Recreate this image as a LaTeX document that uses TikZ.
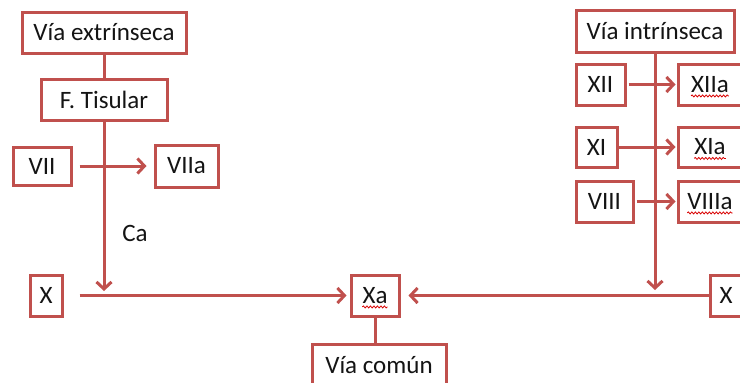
\documentclass[tikz,border=0pt]{standalone}
\usepackage{fontspec}
\setmainfont{Carlito}
\usetikzlibrary{arrows.meta,decorations.pathmorphing}
\definecolor{boxred}{HTML}{C0504D}
\definecolor{ink}{HTML}{141414}
\begin{document}
\begin{tikzpicture}[x=1pt,y=-1pt,
  lbl/.style={font=\fontsize{25}{30}\selectfont, text=ink},
  box/.style={lbl, draw=boxred, line width=3pt, fill=white, inner sep=0pt, minimum height=41pt},
  word/.style={lbl, inner sep=0pt},
  link/.style={draw=boxred, line width=3pt},
  arr/.style={link, -{Straight Barb[length=7pt,width=15pt]}},
  spell/.style={draw=red!85!black, line width=0.8pt, decorate,
    decoration={snake, amplitude=1pt, segment length=3.5pt}}
]
\useasboundingbox (0,0) rectangle (740,383);

% extrinsic pathway
\node[box, minimum width=164pt] (ve) at (104,32.5) {Vía extrínseca};
\node[box, minimum width=126pt] (ft) at (104,99.5) {F. Tisular};
\node[box, minimum width=58pt, minimum height=38pt] (vii) at (42,166) {VII};
\node[box, minimum width=63pt, minimum height=42pt] (viia) at (186.5,166) {VIIa};
\node[word] (ca) at (135,233) {Ca};
\coordinate (el) at (104,291);

% common pathway
\node[box, minimum width=32pt] (xl) at (46,295.5) {X};
\node[box, minimum width=48pt] (xa) at (375,295.5) {};
\node[word] (xat) at (xa) {Xa};
\node[box, minimum width=134pt, minimum height=42pt] (vc) at (379,365) {Vía común};
\node[box, minimum width=32pt] (xr) at (726,295.5) {X};

% intrinsic pathway
\node[box, minimum width=158pt, minimum height=42pt] (vi) at (655,31) {Vía intrínseca};
\node[box, minimum width=49pt] (xii) at (600.5,84.5) {XII};
\node[box, minimum width=64pt] (xiia) at (710,84.5) {};
\node[word] (xiiat) at (xiia) {XIIa};
\node[box, minimum width=41pt, minimum height=40pt] (xi) at (596.5,147) {XI};
\node[box, minimum width=64pt, minimum height=40pt] (xia) at (710,147) {};
\node[word] (xiat) at (xia) {XIa};
\node[box, minimum width=57pt] (viii) at (604.5,201.5) {VIII};
\node[box, minimum width=64pt] (viiia) at (710,201.5) {};
\node[word] (viiiat) at (viiia) {VIIIa};
\coordinate (il) at (655,290);

% connectors
\draw[link] (ve) -- (ft);
\draw[arr] (ft.south) -- (el);
\draw[arr, shorten <=7pt, shorten >=7pt] (vii) -- (viia);
\draw[arr, shorten <=16pt, shorten >=3pt] (xl) -- (xa);
\draw[arr, shorten >=8pt] (xr) -- (xa);
\draw[link] (xa.south) -- (xa.south |- vc.north);
\draw[arr] (vi.south) -- (il);
\draw[arr, shorten <=2pt, shorten >=1pt] (xii) -- (xiia);
\draw[arr, shorten >=1pt] (xi) -- (xia);
\draw[arr, shorten <=2pt, shorten >=1pt] (viii) -- (viiia);

% spell-check underlines
\foreach \t in {xat,xiiat,xiat,viiiat}
  \draw[spell] ([yshift=-3.5pt]\t.base west) -- ([yshift=-3.5pt]\t.base east);
\end{tikzpicture}
\end{document}
